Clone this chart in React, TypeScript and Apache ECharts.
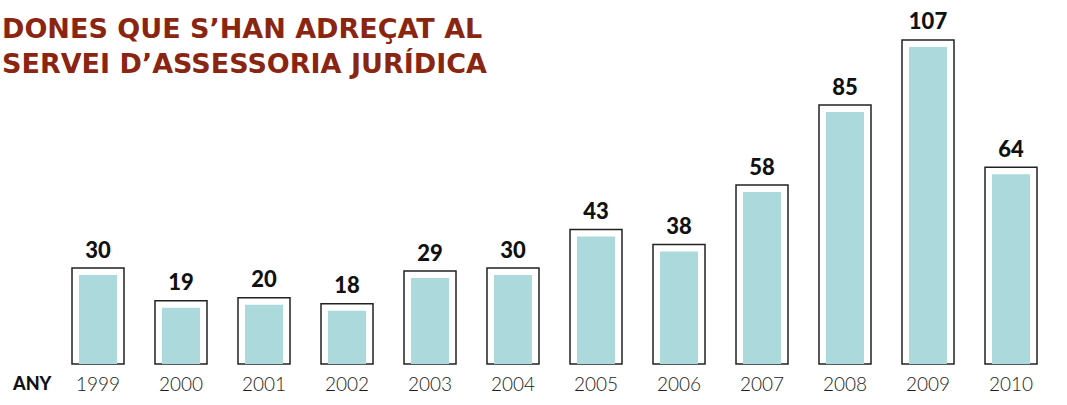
import React, { useEffect, useRef } from "react";
import * as echarts from "echarts";

const years = ["1999", "2000", "2001", "2002", "2003", "2004", "2005", "2006", "2007", "2008", "2009", "2010"];
const values = [30, 19, 20, 18, 29, 30, 43, 38, 58, 85, 107, 64];
const titleLines = ["DONES QUE S\u2019HAN ADRE\u00c7AT AL", "SERVEI D\u2019ASSESSORIA JUR\u00cdDICA"];
const axisName = "ANY";

export default function App() {
  const ref = useRef<HTMLDivElement>(null);
  useEffect(() => {
    if (!ref.current) return;
    const chart = echarts.init(ref.current, null, { renderer: "svg" });
    chart.setOption({
      animation: false,
      backgroundColor: "#ffffff",
      grid: { left: 56.5, width: 996, top: 38, bottom: 41 },
      xAxis: {
        type: "category",
        data: years,
        axisLine: { show: false },
        axisTick: { show: false },
        axisLabel: { color: "#1a1a1a", fontFamily: "Lato", fontWeight: 300, fontSize: 19, margin: 10 },
      },
      yAxis: { type: "value", min: 0, max: 110, show: false, splitLine: { show: false } },
      graphic: [
        {
          type: "text",
          left: 2,
          top: 11,
          style: {
            text: titleLines.join("\n"),
            fill: "#8a2512",
            font: "bold 27px 'DejaVu Sans'",
            lineHeight: 35,
          },
        },
        {
          type: "text",
          left: 13,
          top: 374,
          style: { text: axisName, fill: "#111", font: "900 18px Lato" },
        },
      ],
      series: [
        {
          type: "custom",
          data: values.map((v, i) => [i, v]),
          renderItem: (params: any, api: any) => {
            const idx = api.value(0);
            const val = api.value(1);
            const top = api.coord([idx, val]);
            const base = api.coord([idx, 0]);
            const cx = top[0];
            return {
              type: "group",
              children: [
                {
                  type: "rect",
                  shape: { x: cx - 26, y: top[1] - 7, width: 52, height: base[1] - top[1] + 7 },
                  style: { fill: "#ffffff", stroke: "#222", lineWidth: 1.5 },
                },
                {
                  type: "rect",
                  shape: { x: cx - 19, y: top[1], width: 38, height: base[1] - top[1] },
                  style: { fill: "#acdadc" },
                },
                {
                  type: "text",
                  x: cx,
                  y: top[1] - 26,
                  style: {
                    text: String(val),
                    fill: "#111",
                    font: "900 22px Lato",
                    align: "center",
                    verticalAlign: "middle",
                  },
                },
              ],
            };
          },
        },
      ],
    });
    return () => chart.dispose();
  }, []);
  return <div ref={ref} style={{ position: "absolute", left: 0, top: 0, width: 1067, height: 405 }} />;
}
